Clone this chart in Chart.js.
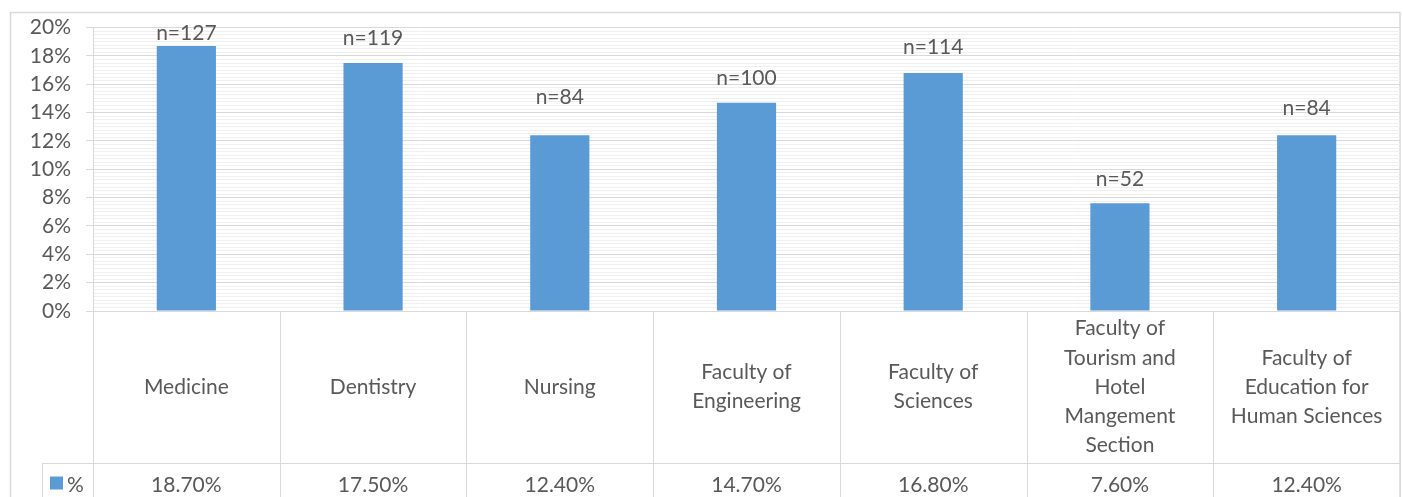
<!DOCTYPE html>
<html>
<head>
<meta charset="utf-8">
<script src="https://cdn.jsdelivr.net/npm/chart.js@4/dist/chart.umd.min.js"></script>
<style>
  html, body { margin: 0; padding: 0; background: #fff; }
  #wrap { width: 1403px; height: 497px; position: relative; }
</style>
</head>
<body>
<div id="wrap"><canvas id="chartBar"></canvas></div>
<script>
// data
const categories = [
  ['Medicine'],
  ['Dentistry'],
  ['Nursing'],
  ['Faculty of', 'Engineering'],
  ['Faculty of', 'Sciences'],
  ['Faculty of', 'Tourism and', 'Hotel', 'Mangement', 'Section'],
  ['Faculty of', 'Education for', 'Human Sciences']
];
const percentValues = [18.7, 17.5, 12.4, 14.7, 16.8, 7.6, 12.4];
const countValues = [127, 119, 84, 100, 114, 52, 84];
const seriesName = '%';
const yTickStep = 2;
const yMinorStep = 0.25;

// styling
const FONT = 'Lato, "Open Sans", sans-serif';
const FONT_SIZE = 21;
const TEXT = '#595959';
const LINE = '#d9d9d9';
const MINOR = '#f0f0f0';
const BLUE = '#5B9BD5';
const labelLift = [13, 25, 38, 24, 26, 24, 27]; // gap (px) between bar top and its n= label

// table under the chart + n= labels + outer frame
const tablePlugin = {
  id: 'tablePlugin',
  beforeDraw(chart) {
    const ctx = chart.ctx;
    ctx.save();
    ctx.strokeStyle = LINE;
    ctx.lineWidth = 1.5;
    ctx.strokeRect(10.5, 12.5, 1389.5, 520);
    ctx.restore();
  },
  afterDraw(chart) {
    const ctx = chart.ctx;
    const area = chart.chartArea;
    const xs = chart.scales.x;
    const ys = chart.scales.y;
    const bottom = chart.height;
    const step = xs.getPixelForValue(1) - xs.getPixelForValue(0);
    const rowY = area.bottom + 152.5;

    ctx.save();
    ctx.strokeStyle = LINE;
    ctx.lineWidth = 1;

    // vertical cell borders
    for (let i = 0; i <= categories.length; i++) {
      const x = Math.round(xs.getPixelForValue(0) - step / 2 + i * step) + 0.5;
      ctx.beginPath();
      ctx.moveTo(x, area.bottom);
      ctx.lineTo(x, bottom);
      ctx.stroke();
    }
    // value row border
    ctx.beginPath();
    ctx.moveTo(42, rowY);
    ctx.lineTo(area.right, rowY);
    ctx.stroke();
    ctx.beginPath();
    ctx.moveTo(42.5, rowY);
    ctx.lineTo(42.5, bottom);
    ctx.stroke();

    ctx.fillStyle = TEXT;
    ctx.font = FONT_SIZE + 'px ' + FONT;
    ctx.textAlign = 'center';
    ctx.textBaseline = 'middle';

    const midY = area.bottom + 76;
    const lh = 29.2;
    categories.forEach((lines, i) => {
      const cx = xs.getPixelForValue(i);
      const y0 = midY - (lines.length - 1) * lh / 2;
      lines.forEach((t, k) => ctx.fillText(t, cx, y0 + k * lh));
      ctx.fillText(percentValues[i].toFixed(2) + '%', cx, rowY + 22);
    });

    // legend key in the value row
    ctx.fillStyle = BLUE;
    ctx.fillRect(50, rowY + 13, 13, 13);
    ctx.fillStyle = TEXT;
    ctx.textAlign = 'left';
    ctx.fillText(seriesName, 67, rowY + 22);

    // n= labels above bars
    ctx.textAlign = 'center';
    percentValues.forEach((v, i) => {
      const cx = xs.getPixelForValue(i);
      const top = ys.getPixelForValue(v);
      ctx.fillText('n=' + countValues[i], cx, top - labelLift[i]);
    });
    ctx.restore();
  }
};

const configBarChart = {
  type: 'bar',
  data: {
    labels: categories,
    datasets: [{
      label: seriesName,
      data: percentValues,
      backgroundColor: BLUE,
      borderWidth: 0,
      barPercentage: 0.317,
      categoryPercentage: 1
    }]
  },
  options: {
    responsive: true,
    maintainAspectRatio: false,
    animation: false,
    devicePixelRatio: 1,
    layout: { padding: { left: 0, top: 27, right: 3, bottom: 186 } },
    plugins: { legend: { display: false }, tooltip: { enabled: false } },
    scales: {
      x: { display: false, offset: true },
      y: {
        min: 0,
        max: 20,
        afterFit(scale) { scale.width = 93; },
        border: { display: true, color: LINE, width: 1 },
        grid: {
          color: (c) => (Math.abs(c.tick.value % yTickStep) < 1e-6 ? LINE : MINOR),
          tickColor: (c) => (Math.abs(c.tick.value % yTickStep) < 1e-6 ? LINE : 'rgba(0,0,0,0)'),
          tickLength: 7,
          lineWidth: 1
        },
        ticks: {
          stepSize: yMinorStep,
          autoSkip: false,
          maxTicksLimit: 200,
          padding: 15,
          color: TEXT,
          font: { family: FONT, size: FONT_SIZE },
          callback: (v) => (Math.abs(v % yTickStep) < 1e-6 ? v + '%' : '')
        }
      }
    }
  },
  plugins: [tablePlugin]
};

var chartBar = new Chart(document.getElementById('chartBar'), configBarChart);
</script>
</body>
</html>
